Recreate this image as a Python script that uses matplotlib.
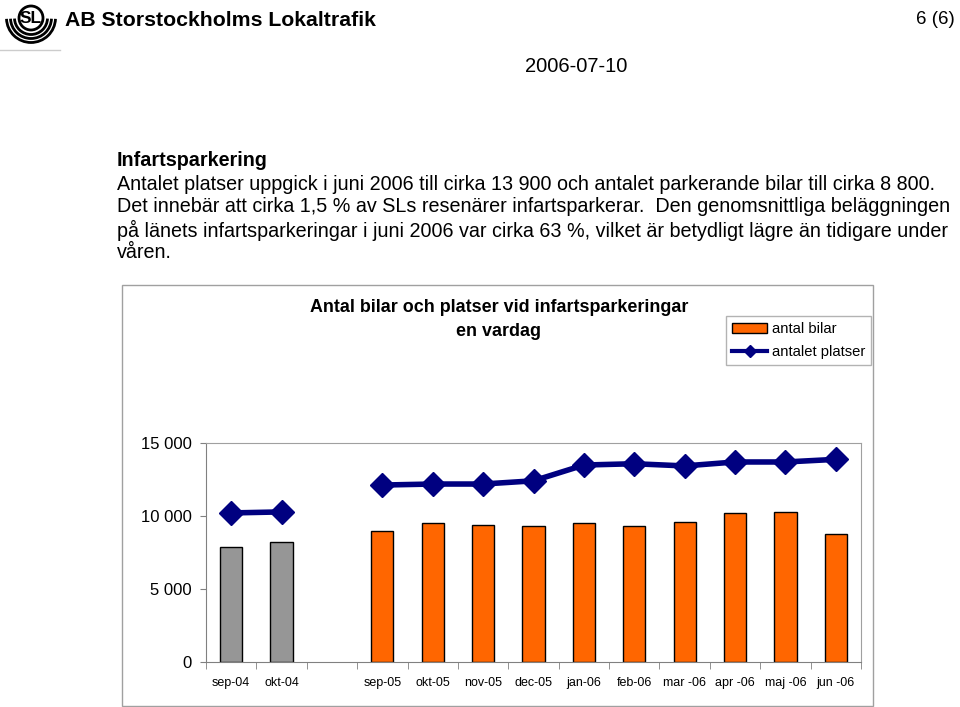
import matplotlib.pyplot as plt
from matplotlib.patches import Rectangle, Circle, Arc
from matplotlib.lines import Line2D
from matplotlib.ticker import FuncFormatter

plt.rcParams['font.family'] = ['Liberation Sans', 'DejaVu Sans']

# data (gap slot between okt-04 and sep-05)
months = ['sep-04', 'okt-04', '', 'sep-05', 'okt-05', 'nov-05', 'dec-05',
          'jan-06', 'feb-06', 'mar -06', 'apr -06', 'maj -06', 'jun -06']
antal_bilar = [7850, 8210, None, 8950, 9490, 9380, 9310,
               9490, 9310, 9600, 10230, 10300, 8750]
antalet_platser = [10210, 10280, None, 12120, 12190, 12190, 12410,
                   13490, 13580, 13430, 13700, 13700, 13880]
bar_colors = ['#969696', '#969696', 'none'] + ['#FF6600'] * 10

fig = plt.figure(figsize=(9.6, 7.07), dpi=100)
W, H = 960, 707

def fx(px):
    return px / W

def fy(py):
    return 1 - py / H

# --- page header ---
logo = fig.add_axes([0, fy(52), fx(62), 52 / H])
logo.set_xlim(0, 62)
logo.set_ylim(52, 0)
logo.set_aspect('equal')
logo.axis('off')
logo.add_patch(Circle((31, 18), 12, fill=False, lw=2, color='black'))
logo.text(31, 18.5, 'SL', ha='center', va='center', fontsize=12.5, fontweight='bold')
for r in (16.5, 20.5, 24.5):
    logo.add_patch(Arc((31, 18), 2 * r, 2 * r, theta1=2, theta2=178, lw=2, color='black'))
logo.plot([0, 60], [50, 50], color='#cccccc', lw=1)

fig.text(fx(65), fy(20), 'AB Storstockholms Lokaltrafik', fontsize=15.3,
         fontweight='bold', va='center', ha='left')
fig.text(fx(955), fy(20), '6 (6)', fontsize=13.5, va='center', ha='right')
fig.text(fx(576), fy(67), '2006-07-10', fontsize=14.5, va='center', ha='center')

# --- body text ---
fig.text(fx(117), fy(161), 'Infartsparkering', fontsize=14.2, fontweight='bold',
         va='center', ha='left')
body = [
    'Antalet platser uppgick i juni 2006 till cirka 13 900 och antalet parkerande bilar till cirka 8 800.',
    'Det innebär att cirka 1,5 % av SLs resenärer infartsparkerar.  Den genomsnittliga beläggningen',
    'på länets infartsparkeringar i juni 2006 var cirka 63 %, vilket är betydligt lägre än tidigare under',
    'våren.',
]
for i, line in enumerate(body):
    fig.text(fx(117), fy(184 + 23 * i), line, fontsize=14.2, va='center', ha='left')

# --- chart box ---
fig.patches.append(Rectangle((fx(122), fy(706)), fx(873 - 122), (706 - 285) / H,
                             transform=fig.transFigure, fill=False,
                             edgecolor='#a0a0a0', lw=1))
fig.text(fx(499), fy(308), 'Antal bilar och platser vid infartsparkeringar',
         fontsize=12.9, fontweight='bold', ha='center', va='center')
fig.text(fx(499), fy(331), 'en vardag', fontsize=12.9, fontweight='bold',
         ha='center', va='center')

ax = fig.add_axes([fx(206), fy(662), fx(861 - 206), (662 - 443) / H])
x = list(range(len(months)))
heights = [v if v is not None else 0 for v in antal_bilar]
ax.bar(x, heights, width=0.44, color=bar_colors,
       edgecolor=['black' if v is not None else 'none' for v in antal_bilar], lw=1, zorder=2)
line_y = [v if v is not None else float('nan') for v in antalet_platser]
ax.plot(x, line_y, color='#000080', lw=4, marker='D', markersize=12, zorder=3)

ax.set_xlim(-0.5, len(months) - 0.5)
ax.set_ylim(0, 15000)
ax.set_yticks([0, 5000, 10000, 15000])
ax.yaxis.set_major_formatter(FuncFormatter(lambda v, p: f'{int(v):,}'.replace(',', ' ')))
ax.tick_params(axis='y', labelsize=12, length=4, color='#808080', pad=6)
ax.set_xticks(x)
ax.set_xticklabels(months, fontsize=9)
ax.set_xticks([i - 0.5 for i in range(len(months) + 1)], minor=True)
ax.tick_params(axis='x', which='major', length=0, pad=11)
ax.tick_params(axis='x', which='minor', length=5, color='#808080')
for side in ('top', 'right'):
    ax.spines[side].set_color('#a0a0a0')
ax.spines['left'].set_color('#808080')
ax.spines['bottom'].set_color('#808080')

handles = [Rectangle((0, 0), 1, 1, facecolor='#FF6600', edgecolor='black'),
           Line2D([], [], color='#000080', lw=3, marker='D', markersize=6)]
fig.legend(handles, ['antal bilar', 'antalet platser'], loc='upper left',
           bbox_to_anchor=(fx(726), fy(316)), fontsize=10.6, frameon=True,
           fancybox=False, edgecolor='#a0a0a0', borderpad=0.4, handlelength=2.4,
           handletextpad=0.3, labelspacing=0.6, borderaxespad=0)

fig.savefig('out.png', dpi=100)
